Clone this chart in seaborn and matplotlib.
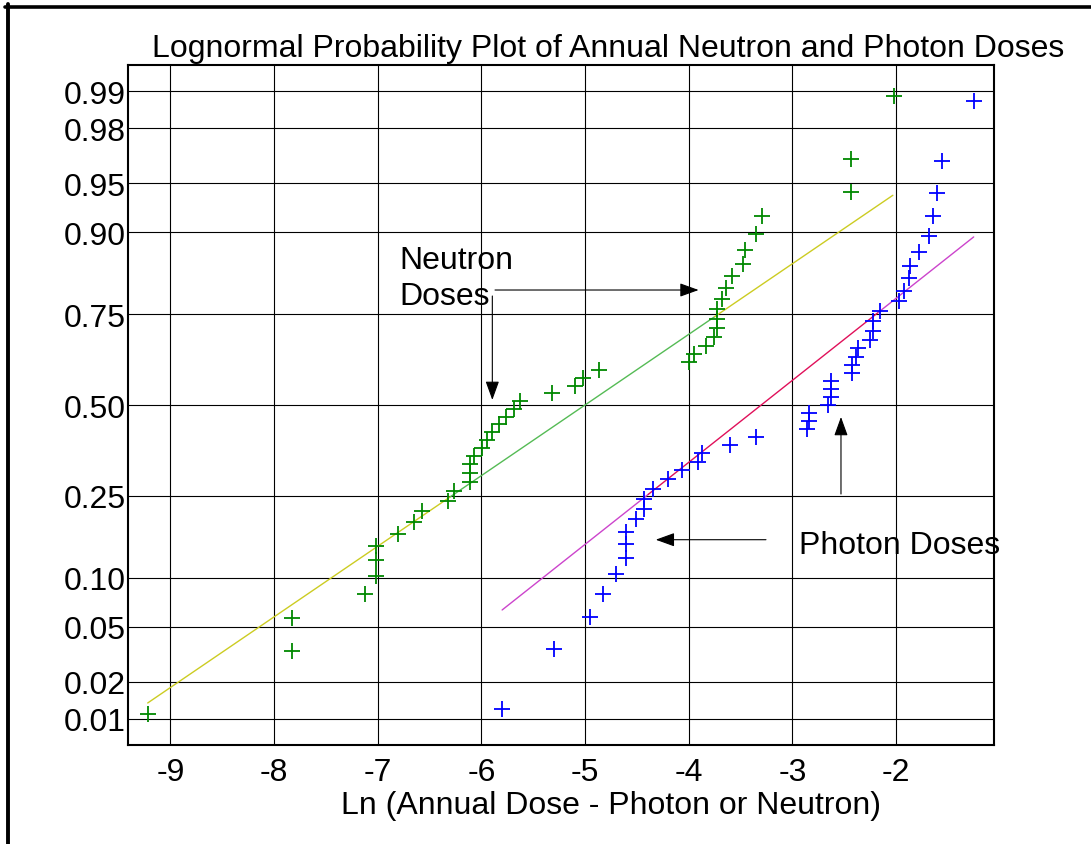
import numpy as np
import seaborn as sns
import matplotlib
matplotlib.use("Agg")
import matplotlib.pyplot as plt
from matplotlib.lines import Line2D
from statistics import NormalDist

sns.set_theme(style="white")
plt.rcParams['font.family'] = ['Liberation Sans', 'DejaVu Sans']

# ln(annual dose) and plotting probability
neutron_ln_dose = [-9.22, -7.83, -7.83, -7.12, -7.02, -7.02, -7.02, -6.80, -6.65, -6.57,
                   -6.32, -6.26, -6.11, -6.11, -6.11, -6.07, -5.99, -5.95, -5.90, -5.83,
                   -5.76, -5.69, -5.63, -5.32, -5.10, -5.02, -4.87, -4.00, -3.95, -3.83,
                   -3.76, -3.73, -3.73, -3.73, -3.68, -3.64, -3.58, -3.48, -3.46, -3.35,
                   -3.29, -2.43, -2.43, -2.02]
neutron_prob = [0.011, 0.034, 0.057, 0.080, 0.102, 0.125, 0.148, 0.170, 0.193, 0.216,
                0.239, 0.261, 0.284, 0.307, 0.330, 0.352, 0.375, 0.398, 0.420, 0.443,
                0.466, 0.489, 0.511, 0.534, 0.557, 0.580, 0.602, 0.625, 0.648, 0.670,
                0.693, 0.716, 0.739, 0.761, 0.784, 0.807, 0.830, 0.852, 0.875, 0.898,
                0.920, 0.943, 0.966, 0.989]

photon_ln_dose = [-5.80, -5.30, -4.95, -4.83, -4.70, -4.60, -4.60, -4.60, -4.51, -4.43,
                  -4.43, -4.34, -4.20, -4.06, -3.91, -3.87, -3.60, -3.35, -2.86, -2.84,
                  -2.84, -2.66, -2.63, -2.63, -2.63, -2.42, -2.42, -2.39, -2.37, -2.25,
                  -2.22, -2.22, -2.15, -1.97, -1.92, -1.87, -1.86, -1.78, -1.68, -1.64,
                  -1.60, -1.56, -1.25]
photon_prob = [0.012, 0.035, 0.058, 0.081, 0.105, 0.128, 0.151, 0.174, 0.198, 0.221,
               0.244, 0.267, 0.291, 0.314, 0.337, 0.360, 0.384, 0.407, 0.430, 0.453,
               0.477, 0.500, 0.523, 0.547, 0.570, 0.593, 0.616, 0.640, 0.663, 0.686,
               0.709, 0.733, 0.756, 0.779, 0.802, 0.826, 0.849, 0.872, 0.895, 0.919,
               0.942, 0.965, 0.988]

# fitted lognormal lines: (mu, sigma, x from, x to)
neutron_fit = (-5.00, 1.91, -9.22, -2.03)
photon_fit = (-3.30, 1.645, -5.80, -1.25)

prob_ticks = [0.01, 0.02, 0.05, 0.10, 0.25, 0.50, 0.75, 0.90, 0.95, 0.98, 0.99]
prob_labels = ['0.01', '0.02', '0.05', '0.10', '0.25', '0.50',
               '0.75', '0.90', '0.95', '0.98', '0.99']
x_ticks = [-9, -8, -7, -6, -5, -4, -3, -2]

FS = 23
_nd = NormalDist()


def prob_to_z(p):
    p = np.clip(np.asarray(p, dtype=float), 1e-9, 1 - 1e-9)
    out = np.full(p.shape, np.nan)
    ok = np.isfinite(p)
    out[ok] = np.vectorize(_nd.inv_cdf, otypes=[float])(p[ok])
    return out


def z_to_prob(z):
    z = np.asarray(z, dtype=float)
    return np.vectorize(_nd.cdf, otypes=[float])(z)


def draw_fit(ax, fit, end_color, mid_color, mid_range):
    mu, sigma, x0, x1 = fit
    pieces = [(x0, mid_range[0], end_color), (mid_range[0], mid_range[1], mid_color),
              (mid_range[1], x1, end_color)]
    for a, b, c in pieces:
        xs = np.linspace(a, b, 60)
        ps = z_to_prob((xs - mu) / sigma)
        sns.lineplot(x=xs, y=ps, color=c, lw=1.0, ax=ax)


W, H = 1091, 845
fig = plt.figure(figsize=(W / 100, H / 100), dpi=100)
left, right, top, bottom = 128, 994, 66, 746
ax = fig.add_axes([left / W, 1 - bottom / H, (right - left) / W, (bottom - top) / H])

draw_fit(ax, neutron_fit, '#cccc22', '#55bb55', (-6.3, -3.75))
draw_fit(ax, photon_fit, '#cc44cc', '#e0105a', (-4.39, -2.17))

sns.scatterplot(x=neutron_ln_dose, y=neutron_prob, marker='+', s=140,
                color='#008800', edgecolor='#008800', linewidth=1.3, ax=ax, zorder=3)
sns.scatterplot(x=photon_ln_dose, y=photon_prob, marker='+', s=140,
                color='#0000ff', edgecolor='#0000ff', linewidth=1.3, ax=ax, zorder=3)

ax.set_yscale('function', functions=(prob_to_z, z_to_prob))
ax.set_xlim(-9.41, -1.054)
ax.set_ylim(z_to_prob(-2.521), z_to_prob(2.521))
ax.set_xticks(x_ticks)
ax.set_xticklabels([str(t) for t in x_ticks])
ax.set_yticks(prob_ticks)
ax.set_yticklabels(prob_labels)
ax.minorticks_off()

ax.grid(True, color='black', lw=0.8)
for s in ax.spines.values():
    s.set_color('black')
    s.set_linewidth(1.5)
ax.tick_params(axis='both', length=0, labelsize=FS, colors='black')
ax.tick_params(axis='x', pad=8.5)
ax.tick_params(axis='y', pad=1.5)

ax.set_xlabel('Ln (Annual Dose - Photon or Neutron)', fontsize=FS, color='black')
ax.xaxis.set_label_coords(0.5577, -0.066)
ax.set_ylabel('')

fig.text(152 / W, 1 - 57 / H, 'Lognormal Probability Plot of Annual Neutron and Photon Doses',
         fontsize=FS, ha='left', va='baseline', color='black')

# annotations (axes fraction coordinates)
txt = dict(fontsize=FS, color='black', ha='left', va='baseline', transform=ax.transAxes)
ax.text(0.3129, 0.7015, 'Neutron', **txt)
ax.text(0.3129, 0.6485, 'Doses', **txt)
ax.text(0.7748, 0.2819, 'Photon Doses', clip_on=False, **txt)

arrow = dict(arrowstyle='-|>,head_length=0.58,head_width=0.21', color='black',
             lw=0.8, shrinkA=0, shrinkB=0, mutation_scale=20)
for tail, tip in [((0.4238, 0.6691), (0.6589, 0.6691)),
                  ((0.4207, 0.6603), (0.4207, 0.5074)),
                  ((0.7367, 0.3019), (0.6094, 0.3019)),
                  ((0.8233, 0.3691), (0.8233, 0.4824))]:
    ax.annotate('', xy=tip, xytext=tail, xycoords='axes fraction',
                textcoords='axes fraction', arrowprops=arrow)

# thick frame on the top and left edges of the picture
fig.add_artist(Line2D([5 / W, 1], [1 - 7.5 / H, 1 - 7.5 / H], color='black',
                      lw=2.6, transform=fig.transFigure))
fig.add_artist(Line2D([7.5 / W, 7.5 / W], [0, 1 - 5 / H], color='black',
                      lw=2.8, transform=fig.transFigure))

fig.savefig('out.png', dpi=100, facecolor='white')
